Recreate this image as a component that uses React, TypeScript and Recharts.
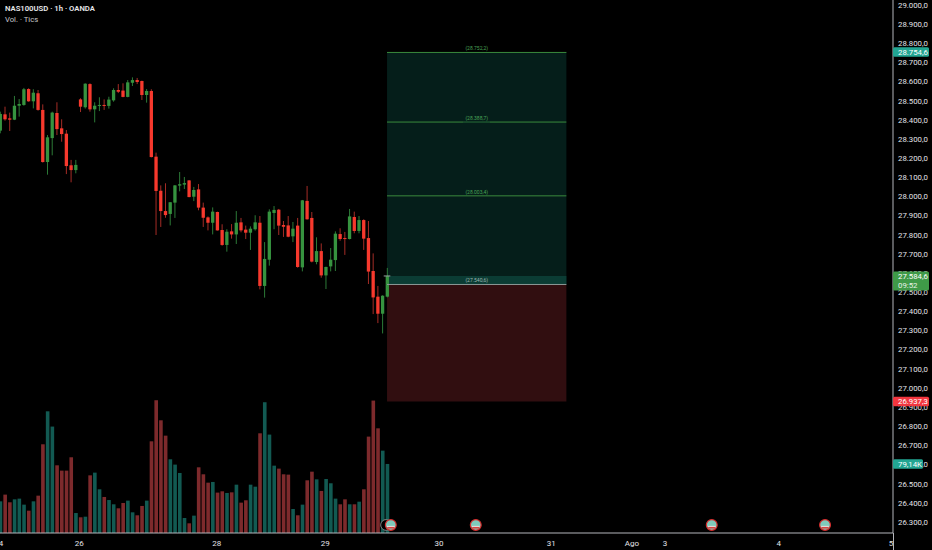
import React from 'react';
import {
  ComposedChart,
  Bar,
  XAxis,
  YAxis,
  ReferenceArea,
  ReferenceLine,
  ReferenceDot,
} from 'recharts';

const opens = [
  28344, 28429, 28408, 28401, 28474, 28478, 28561, 28497, 28539, 28452, 28180, 28305, 28436, 28356, 28328, 28163, 28138,
  28507, 28466, 28587, 28455, 28473, 28478, 28473, 28502, 28556, 28553, 28520, 28594, 28608, 28603, 28530, 28551, 28208,
  28030, 27924, 27909, 27968, 28057, 28062, 28084, 27999, 28037, 27942, 27891, 27863, 27919, 27825, 27747, 27818, 27802,
  27865, 27827, 27811, 27829, 27863, 27533, 27670, 27914, 27931, 27851, 27849, 27792, 27848, 27630, 27977, 27888, 27658,
  27715, 27588, 27635, 27668, 27804, 27783, 27778, 27893, 27820, 27877, 27783, 27611, 27477, 27388, 27477,
];
const highs = [
  28443, 28469, 28438, 28525, 28509, 28567, 28565, 28560, 28556, 28481, 28321, 28443, 28492, 28403, 28347, 28191, 28191,
  28513, 28591, 28591, 28492, 28518, 28507, 28521, 28565, 28587, 28591, 28608, 28622, 28619, 28605, 28561, 28560, 28229,
  28058, 28069, 27971, 28060, 28128, 28102, 28086, 28050, 28065, 27968, 27896, 27943, 27921, 27855, 27829, 27856, 27924,
  27888, 27848, 27844, 27902, 27898, 27762, 27933, 27950, 27935, 27872, 27898, 27867, 27888, 27982, 28055, 27919, 27787,
  27755, 27634, 27731, 27818, 27834, 27815, 27935, 27921, 27898, 27881, 27872, 27703, 27533, 27484, 27627,
];
const lows = [
  28330, 28396, 28342, 28399, 28417, 28474, 28495, 28460, 28448, 28177, 28114, 28215, 28321, 28286, 28117, 28074, 28121,
  28441, 28459, 28443, 28387, 28446, 28452, 28459, 28495, 28540, 28518, 28518, 28577, 28587, 28504, 28490, 28204, 27799,
  27841, 27889, 27849, 27888, 28027, 28039, 27996, 27976, 27928, 27841, 27823, 27802, 27822, 27743, 27712, 27780, 27752,
  27813, 27778, 27721, 27822, 27515, 27472, 27639, 27829, 27799, 27789, 27787, 27762, 27628, 27609, 27879, 27656, 27646,
  27576, 27517, 27609, 27611, 27769, 27695, 27776, 27808, 27808, 27721, 27543, 27386, 27339, 27285, 27473,
];
const closes = [
  28431, 28403, 28401, 28474, 28483, 28560, 28497, 28542, 28452, 28180, 28309, 28438, 28352, 28326, 28159, 28138, 28165,
  28469, 28589, 28455, 28474, 28478, 28473, 28506, 28556, 28547, 28520, 28596, 28608, 28598, 28530, 28551, 28206, 28029,
  27924, 27903, 27970, 28058, 28064, 28070, 27997, 28034, 27942, 27889, 27863, 27921, 27823, 27747, 27816, 27802, 27863,
  27823, 27811, 27832, 27865, 27533, 27674, 27921, 27930, 27848, 27842, 27790, 27832, 27632, 27980, 27881, 27660, 27715,
  27588, 27632, 27670, 27806, 27778, 27778, 27896, 27820, 27877, 27780, 27608, 27473, 27388, 27482, 27584.6,
];
// thousands of ticks per hourly bar
const volumes = [
  36.3, 44.0, 35.2, 38.6, 39.4, 32.5, 25.6, 36.3, 42.8, 101.7, 139.5, 122.0, 77.6, 71.5, 71.5, 86.8, 22.9, 18.0, 18.7,
  66.1, 69.2, 50.1, 41.3, 37.8, 32.9, 28.3, 34.4, 37.1, 23.7, 20.3, 31.0, 37.1, 105.1, 152.2, 129.2, 111.6, 84.5, 78.4,
  68.8, 17.2, 11.1, 19.9, 75.3, 67.3, 57.7, 58.5, 46.3, 47.8, 45.9, 46.6, 55.4, 34.8, 37.5, 55.4, 53.1, 114.3, 149.9,
  112.8, 77.2, 73.8, 67.3, 66.9, 27.5, 20.3, 32.5, 60.4, 70.3, 61.5, 48.2, 61.9, 57.0, 39.4, 32.9, 38.6, 32.9, 32.9, 35.9,
  50.1, 110.5, 151.8, 120.0, 94.4, 79.14,
];

const priceTicks = [
  26300, 26400, 26500, 26600, 26700, 26800, 26900, 27000, 27100, 27200, 27300, 27400, 27500, 27600, 27700, 27800, 27900,
  28000, 28100, 28200, 28300, 28400, 28500, 28600, 28700, 28800, 28900, 29000,
];
const timeTicks = [0.2, 16.8, 45.9, 68.9, 93, 116.8, 133.9, 140.9, 165, 188.8];
const timeLabels = ['4', '26', '28', '29', '30', '31', 'Ago', '3', '4', '5'];

const targetLevels = [28752.2, 28388.7, 28003.4];
const targetLabels = ['(28.752,2)', '(28.388,7)', '(28.003,4)'];
const entryLevel = 27540.6;
const entryLabel = '(27.540,6)';
const lastPrice = 27584.6;
const stopLevel = 26937.3;
const stopEdge = 26930;
const takeLevel = 28754.6;
const eventBars = [82.8, 100.8, 150.8, 174.8];
const ghostEventBar = 81.8;

const slotsInPlot = 189.2;
const volumeTop = 611;
const FONT = 'Roboto, "Noto Sans", sans-serif';

const chartData = opens.map((open, i) => ({
  i,
  open,
  close: closes[i],
  high: highs[i],
  low: lows[i],
  range: [lows[i], highs[i]],
  volume: volumes[i],
}));

function formatPrice(v: number) {
  const [whole, dec] = v.toFixed(1).split('.');
  return `${whole.slice(0, -3)}.${whole.slice(-3)},${dec}`;
}

function Candle(props: any) {
  const { x, y, width, height, payload } = props;
  const { open, close, high, low } = payload;
  const up = close >= open;
  const perUnit = height / (high - low);
  const cx = x + width / 2;
  const bodyTop = y + (high - Math.max(open, close)) * perUnit;
  const bodyH = Math.max(Math.abs(open - close) * perUnit, 1);
  return (
    <g>
      <line x1={cx} x2={cx} y1={y} y2={y + height} stroke={up ? '#2c7a37' : '#a52c26'} strokeWidth={1} />
      <rect x={x} y={bodyTop} width={width} height={bodyH} fill={up ? '#36933f' : '#f7392d'} />
    </g>
  );
}

function VolumeBar(props: any) {
  const { x, y, width, height, payload } = props;
  return <rect x={x} y={y} width={width} height={height} fill={payload.close >= payload.open ? '#125a52' : '#7d2a2c'} />;
}

function PriceTag({ viewBox, text, sub, color, w }: any) {
  const left = viewBox.x + viewBox.width;
  const h = sub ? 19 : 9.6;
  const top = sub ? viewBox.y - 4.5 : viewBox.y - h / 2;
  return (
    <g>
      <rect x={left} y={top} width={w} height={h} rx={1.5} fill={color} />
      <text x={left + 5} y={top + 7.4} fontSize={7.8} fill="#ffffff" fontFamily={FONT}>{text}</text>
      {sub && <text x={left + 5} y={top + 16} fontSize={7.8} fill="#e8f2e8" fontFamily={FONT}>{sub}</text>}
    </g>
  );
}

function EventFlag(props: any) {
  const { cx, cy } = props;
  return (
    <g>
      <circle cx={cx} cy={cy} r={5.4} fill="#7fcabb" stroke="#d92b2b" strokeWidth={1.2} />
      <rect x={cx - 3.8} y={cy + 0.9} width={7.6} height={1.1} fill="#ecdede" />
      <rect x={cx - 3.4} y={cy + 2} width={6.8} height={1.6} fill="#d8423f" />
    </g>
  );
}

function GhostFlag(props: any) {
  const { cx, cy } = props;
  return <circle cx={cx} cy={cy} r={5.4} fill="#000000" stroke="#8a8a8a" strokeWidth={0.9} />;
}

export default function App() {
  return (
    <div style={{ position: 'absolute', left: 0, top: 0, width: 932, height: 550, background: '#000000', overflow: 'hidden' }}>
      <ComposedChart width={932} height={550} data={chartData} margin={{ top: 0, right: 0, bottom: 0, left: 0 }}>
        <XAxis
          xAxisId="price"
          dataKey="i"
          type="number"
          domain={[0, slotsInPlot]}
          allowDataOverflow
          ticks={timeTicks}
          interval={0}
          height={17}
          tickFormatter={(v: number) => timeLabels[timeTicks.indexOf(v)]}
          tick={{ fontSize: 8, fill: '#e2e3e8', fontFamily: FONT }}
          tickLine={false}
          axisLine={{ stroke: '#b4b6bc' }}
          tickMargin={1}
        />
        <XAxis xAxisId="vol" dataKey="i" type="number" domain={[0, slotsInPlot]} allowDataOverflow hide height={0} />
        <YAxis
          yAxisId="price"
          orientation="right"
          width={39}
          domain={[26243, 29026]}
          allowDataOverflow
          ticks={priceTicks}
          interval={0}
          tickFormatter={formatPrice}
          tick={{ fontSize: 7.8, fill: '#e2e3e8', fontFamily: FONT }}
          tickLine={false}
          tickSize={0}
          axisLine={{ stroke: '#b4b6bc' }}
          tickMargin={5}
        />
        <YAxis yAxisId="vol" hide domain={[0, volumeTop]} />

        <ReferenceArea xAxisId="price" yAxisId="price" x1={82} x2={120} y1={entryLevel} y2={takeLevel} fill="#051e1a" fillOpacity={1} stroke="none" />
        <ReferenceArea xAxisId="price" yAxisId="price" x1={82} x2={120} y1={entryLevel} y2={lastPrice} fill="#0b3c34" fillOpacity={1} stroke="none" />
        <ReferenceArea xAxisId="price" yAxisId="price" x1={82} x2={120} y1={stopEdge} y2={entryLevel} fill="#310e10" fillOpacity={1} stroke="none" />

        {targetLevels.map((level, n) => (
          <ReferenceLine
            key={level}
            xAxisId="price"
            yAxisId="price"
            segment={[{ x: 82, y: level }, { x: 120, y: level }]}
            stroke="#3a8a3c"
            strokeWidth={1}
            label={{ value: targetLabels[n], position: 'top', fontSize: 5, fill: '#4aa356', fontFamily: FONT, offset: 2 }}
          />
        ))}
        <ReferenceLine
          xAxisId="price"
          yAxisId="price"
          segment={[{ x: 98.1, y: targetLevels[1] }, { x: 103.8, y: targetLevels[1] }]}
          stroke="#0f3a28"
          strokeWidth={1}
        />
        <ReferenceLine
          xAxisId="price"
          yAxisId="price"
          segment={[{ x: 82, y: entryLevel }, { x: 120, y: entryLevel }]}
          stroke="#8c9a98"
          strokeWidth={1}
          label={{ value: entryLabel, position: 'top', fontSize: 5, fill: '#9fb8b2', fontFamily: FONT, offset: 2 }}
        />

        <Bar xAxisId="vol" yAxisId="vol" dataKey="volume" barSize={3.6} shape={<VolumeBar />} isAnimationActive={false} />
        <Bar xAxisId="price" yAxisId="price" dataKey="range" barSize={3.3} shape={<Candle />} isAnimationActive={false} />

        <ReferenceLine
          xAxisId="price"
          yAxisId="price"
          segment={[{ x: 81.3, y: 27585 }, { x: 82.7, y: 27585 }]}
          stroke="#9aa5a2"
          strokeWidth={1}
        />

        <ReferenceDot xAxisId="price" yAxisId="price" x={ghostEventBar} y={26285} r={5} shape={<GhostFlag />} />
        {eventBars.map((bar) => (
          <ReferenceDot key={bar} xAxisId="price" yAxisId="price" x={bar} y={26285} r={5} shape={<EventFlag />} />
        ))}

        <ReferenceLine yAxisId="price" xAxisId="price" y={takeLevel} stroke="none" zIndex={3000}
          label={<PriceTag text={formatPrice(takeLevel)} color="#22a592" w={36} />} />
        <ReferenceLine yAxisId="price" xAxisId="price" y={lastPrice} stroke="none" zIndex={3000}
          label={<PriceTag text={formatPrice(lastPrice)} sub="09:52" color="#3f9a48" w={36} />} />
        <ReferenceLine yAxisId="price" xAxisId="price" y={stopEdge} stroke="none" zIndex={3000}
          label={<PriceTag text={formatPrice(stopLevel)} color="#f2363f" w={36} />} />
        <ReferenceLine yAxisId="vol" xAxisId="vol" y={volumes[volumes.length - 1]} stroke="none" zIndex={3000}
          label={<PriceTag text="79,14K" color="#22a592" w={30} />} />
      </ComposedChart>
      <div style={{ position: 'absolute', left: 893, top: 533, width: 1, height: 17, background: '#b4b6bc' }} />
      <div style={{ position: 'absolute', left: 5, top: 4, fontFamily: FONT, fontSize: 7.7, fontWeight: 600, color: '#e8e8ea', whiteSpace: 'nowrap' }}>
        NAS100USD · 1h · OANDA
      </div>
      <div style={{ position: 'absolute', left: 5, top: 15, fontFamily: FONT, fontSize: 7.7, color: '#c8c8cc', whiteSpace: 'nowrap' }}>
        Vol. · Tics
      </div>
    </div>
  );
}
